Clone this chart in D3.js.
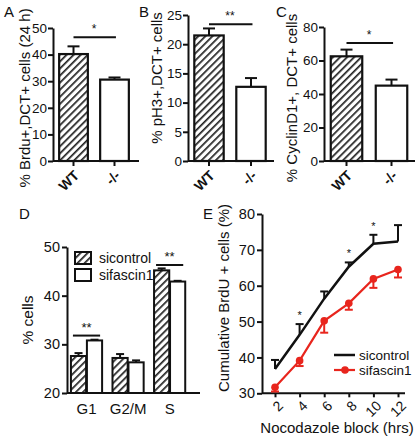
<!DOCTYPE html>
<html><head><meta charset="utf-8">
<script src="https://cdn.jsdelivr.net/npm/d3@7"></script>
<style>
body{margin:0;background:#fff;}
svg{display:block;font-family:Arial,"Liberation Sans",sans-serif;}
</style></head>
<body>
<svg id="c" width="419" height="440"></svg>
<script>
// ---- data ----
const genotypes = ["WT", "-/-"];
const brduValues = [40.2, 30.6];
const brduErrors = [2.9, 0.8];
const ph3Values = [21.5, 12.7];
const ph3Errors = [1.2, 1.5];
const cyclinValues = [62.5, 45];
const cyclinErrors = [4, 3.6];

const phases = ["G1", "G2/M", "S"];
const cellSeries = ["sicontrol", "sifascin1"];
const sicontrolCells = [27.6, 27.2, 45.2];
const sicontrolCellErr = [0.6, 0.8, 0.4];
const sifascinCells = [30.8, 26.3, 42.9];
const sifascinCellErr = [0.15, 0.4, 0.15];

const hours = [2, 4, 6, 8, 10, 12];
const sicontrolBrdu = [36.8, 46.3, 56.4, 65.3, 71.7, 72.3];
const sicontrolBrduErr = [2.5, 3.0, 2.0, 1.2, 2.5, 4.6];
const sifascinBrdu = [31.7, 39.1, 50.2, 55.1, 61.9, 64.5];
const sifascinBrduErr = [1.2, 1.5, 3.3, 1.8, 2.5, 2.2];

const svg = d3.select("#c");
const defs = svg.append("defs");
const pat = defs.append("pattern").attr("id","hatch").attr("patternUnits","userSpaceOnUse")
  .attr("width",5).attr("height",5).attr("patternTransform","rotate(45)");
pat.append("rect").attr("width",5).attr("height",5).attr("fill","#fff");
pat.append("rect").attr("x",0).attr("width",1.7).attr("height",5).attr("fill","#222");

function styleAxis(g, fs){
  g.selectAll(".domain").attr("stroke","#111").attr("stroke-width",2);
  g.selectAll(".tick line").attr("stroke","#111").attr("stroke-width",2);
  g.selectAll("text").attr("font-size",fs).attr("fill","#111").style("font-family","Arial,'Liberation Sans',sans-serif");
}

function barPanel(o){
  const x = d3.scaleBand().domain(genotypes).range([o.x0, o.x1]).paddingInner(0.3).paddingOuter(0.15);
  const y = d3.scaleLinear().domain([0, o.ymax]).range([o.yb, o.yt]);
  const g = svg.append("g");
  const ya = g.append("g").attr("transform",`translate(${o.x0},0)`)
    .call(d3.axisLeft(y).tickValues(o.ticks).tickSize(5).tickPadding(1).tickSizeOuter(0));
  styleAxis(ya, 13.5);
  genotypes.forEach((k,i)=>{
    const cx = x(k)+x.bandwidth()/2;
    g.append("line").attr("x1",cx).attr("x2",cx).attr("y1",y(o.values[i])).attr("y2",y(o.values[i]+o.errors[i]))
      .attr("stroke","#111").attr("stroke-width",2);
    g.append("line").attr("x1",cx-6).attr("x2",cx+6).attr("y1",y(o.values[i]+o.errors[i])).attr("y2",y(o.values[i]+o.errors[i]))
      .attr("stroke","#111").attr("stroke-width",2);
  });
  g.selectAll("rect.bar").data(o.values).join("rect")
    .attr("x",(d,i)=>x(genotypes[i])).attr("width",x.bandwidth())
    .attr("y",d=>y(d)).attr("height",d=>y(0)-y(d))
    .attr("fill",(d,i)=>i===0?"url(#hatch)":"#fff").attr("stroke","#111").attr("stroke-width",2.2);
  const xa = g.append("g").attr("transform",`translate(0,${o.yb})`)
    .call(d3.axisBottom(x).tickSize(5).tickSizeOuter(0));
  xa.select(".domain").attr("d",`M${o.x0},0H${o.xEnd}`);
  styleAxis(xa, 14);
  xa.selectAll("text").attr("text-anchor","end").attr("font-weight","bold")
    .attr("x",0).attr("y",0).attr("dy","0.35em").attr("transform","translate(3,12) rotate(-45)");
  const sy = y(o.sig);
  g.append("line").attr("x1",x(genotypes[0])+x.bandwidth()*0.5).attr("x2",x(genotypes[1])+x.bandwidth()*0.55)
    .attr("y1",sy).attr("y2",sy).attr("stroke","#111").attr("stroke-width",2);
  g.append("text").attr("x",(x(genotypes[0])+x(genotypes[1])+x.bandwidth())/2).attr("y",sy-4)
    .attr("text-anchor","middle").attr("font-size",12).attr("fill","#111").text(o.star);
  g.append("text").attr("transform",`translate(${o.tx},${o.ty}) rotate(-90)`).attr("text-anchor","middle")
    .attr("font-size",15).attr("fill","#111").text(o.title);
  g.append("text").attr("x",o.lx).attr("y",o.ly).attr("font-size",15).attr("fill","#111").text(o.letter);
}

barPanel({x0:53,x1:135,xEnd:139,yb:161,yt:28,ymax:50,ticks:[0,10,20,30,40,50],values:brduValues,errors:brduErrors,
  sig:46.5,star:"*",title:"% Brdu+,DCT+ cells (24 h)",tx:30,ty:98,letter:"A",lx:4,ly:17});
barPanel({x0:188,x1:272,xEnd:274,yb:161,yt:15,ymax:25,ticks:[0,5,10,15,20,25],values:ph3Values,errors:ph3Errors,
  sig:23.4,star:"**",title:"% pH3+,DCT+ cells",tx:162,ty:78,letter:"B",lx:139,ly:17});
barPanel({x0:324,x1:414,xEnd:415,yb:161,yt:27,ymax:80,ticks:[0,20,40,60,80],values:cyclinValues,errors:cyclinErrors,
  sig:70.5,star:"*",title:"% CyclinD1+, DCT+ cells",tx:297,ty:98,letter:"C",lx:276,ly:17});

// ---- panel D ----
(function(){
  const x0=67, x1=200, yb=393, yt=247;
  const x = d3.scaleBand().domain(phases).range([x0,x1]).paddingInner(0.25).paddingOuter(0.225).align(0.21);
  const xs = d3.scaleBand().domain(cellSeries).range([0,x.bandwidth()]).paddingInner(0.05);
  const y = d3.scaleLinear().domain([20,50]).range([yb,yt]);
  const g = svg.append("g");
  const ya = g.append("g").attr("transform",`translate(${x0},0)`)
    .call(d3.axisLeft(y).tickValues([20,30,40,50]).tickSize(5).tickPadding(2).tickSizeOuter(0));
  styleAxis(ya, 14.5);
  const series = [[sicontrolCells,sicontrolCellErr],[sifascinCells,sifascinCellErr]];
  series.forEach(([vals,errs],si)=>{
    phases.forEach((p,i)=>{
      const bx = x(p)+xs(cellSeries[si]);
      const cx = bx+xs.bandwidth()/2;
      g.append("line").attr("x1",cx).attr("x2",cx).attr("y1",y(vals[i])).attr("y2",y(vals[i]+errs[i])).attr("stroke","#111").attr("stroke-width",2);
      g.append("line").attr("x1",cx-4).attr("x2",cx+4).attr("y1",y(vals[i]+errs[i])).attr("y2",y(vals[i]+errs[i])).attr("stroke","#111").attr("stroke-width",2);
      g.append("rect").attr("x",bx).attr("width",xs.bandwidth()).attr("y",y(vals[i])).attr("height",y(20)-y(vals[i]))
        .attr("fill",si===0?"url(#hatch)":"#fff").attr("stroke","#111").attr("stroke-width",2);
    });
  });
  const xa = g.append("g").attr("transform",`translate(0,${yb})`)
    .call(d3.axisBottom(x).tickSize(0).tickPadding(10).tickSizeOuter(0));
  xa.select(".domain").attr("d",`M${x0},0H${x1}`);
  styleAxis(xa, 15);
  [["G1",31.8],["S",46.3]].forEach(([p,v])=>{
    const sy=y(v);
    g.append("line").attr("x1",x(p)+2).attr("x2",x(p)+x.bandwidth()-2).attr("y1",sy).attr("y2",sy).attr("stroke","#111").attr("stroke-width",2);
    g.append("text").attr("x",x(p)+x.bandwidth()/2).attr("y",sy-4).attr("text-anchor","middle").attr("font-size",13).attr("fill","#111").text("**");
  });
  cellSeries.forEach((s,i)=>{
    g.append("rect").attr("x",75).attr("y",252+i*17).attr("width",16).attr("height",12)
      .attr("fill",i===0?"url(#hatch)":"#fff").attr("stroke","#111").attr("stroke-width",2);
    g.append("text").attr("x",99).attr("y",263+i*17).attr("font-size",14).attr("fill","#111").text(s);
  });
  g.append("text").attr("transform","translate(33,320) rotate(-90)").attr("text-anchor","middle").attr("font-size",15.5).attr("fill","#111").text("% cells");
  g.append("text").attr("x",19).attr("y",219).attr("font-size",15).attr("fill","#111").text("D");
})();

// ---- panel E ----
(function(){
  const x0=262, xEnd=405, yb=393.3, yt=214;
  const x = d3.scaleLinear().domain([2,12]).range([275,398]);
  const y = d3.scaleLinear().domain([30,80]).range([yb,yt]);
  const g = svg.append("g");
  const ya = g.append("g").attr("transform",`translate(${x0},0)`)
    .call(d3.axisLeft(y).tickValues([30,40,50,60,70,80]).tickSize(5).tickPadding(2).tickSizeOuter(0));
  styleAxis(ya, 14.5);
  const xa = g.append("g").attr("transform",`translate(0,${yb})`)
    .call(d3.axisBottom(x).tickValues(hours).tickFormat(d3.format("d")).tickSize(4).tickSizeOuter(0));
  xa.select(".domain").attr("d",`M${x0},0H${xEnd}`);
  styleAxis(xa, 14);
  xa.selectAll("text").attr("text-anchor","end").attr("x",0).attr("y",0).attr("dy","0.35em")
    .attr("transform","translate(5,10) rotate(-45)");
  hours.forEach((h,i)=>{
    const cx=x(h), top=y(sicontrolBrdu[i]+sicontrolBrduErr[i]);
    g.append("line").attr("x1",cx).attr("x2",cx).attr("y1",y(sicontrolBrdu[i])).attr("y2",top).attr("stroke","#111").attr("stroke-width",2);
    g.append("line").attr("x1",cx-4).attr("x2",cx+4).attr("y1",top).attr("y2",top).attr("stroke","#111").attr("stroke-width",2);
    const bot=y(sifascinBrdu[i]-sifascinBrduErr[i]);
    g.append("line").attr("x1",cx).attr("x2",cx).attr("y1",y(sifascinBrdu[i])).attr("y2",bot).attr("stroke","#e8251d").attr("stroke-width",2);
    g.append("line").attr("x1",cx-4).attr("x2",cx+4).attr("y1",bot).attr("y2",bot).attr("stroke","#e8251d").attr("stroke-width",2);
  });
  const line = d3.line().x((d,i)=>x(hours[i])).y(d=>y(d));
  g.append("path").datum(sicontrolBrdu).attr("d",line).attr("fill","none").attr("stroke","#111").attr("stroke-width",2.5);
  g.append("path").datum(sifascinBrdu).attr("d",line).attr("fill","none").attr("stroke","#e8251d").attr("stroke-width",2.2);
  g.selectAll("circle.pt").data(sifascinBrdu).join("circle").attr("cx",(d,i)=>x(hours[i])).attr("cy",d=>y(d)).attr("r",3.8).attr("fill","#e8251d");
  [4,8,10].forEach(h=>{
    const i=hours.indexOf(h);
    g.append("text").attr("x",x(h)).attr("y",y(sicontrolBrdu[i]+sicontrolBrduErr[i])-5).attr("text-anchor","middle").attr("font-size",11).attr("fill","#111").text("*");
  });
  g.append("line").attr("x1",334).attr("x2",355).attr("y1",355).attr("y2",355).attr("stroke","#111").attr("stroke-width",2.5);
  g.append("text").attr("x",359).attr("y",360).attr("font-size",13.5).attr("fill","#111").text(cellSeries[0]);
  g.append("line").attr("x1",334).attr("x2",355).attr("y1",370).attr("y2",370).attr("stroke","#e8251d").attr("stroke-width",2.2);
  g.append("circle").attr("cx",345).attr("cy",370).attr("r",3.8).attr("fill","#e8251d");
  g.append("text").attr("x",359).attr("y",375).attr("font-size",13.5).attr("fill","#111").text(cellSeries[1]);
  g.append("text").attr("transform","translate(229,298) rotate(-90)").attr("text-anchor","middle").attr("font-size",15).attr("fill","#111").text("Cumulative BrdU + cells (%)");
  g.append("text").attr("x",337).attr("y",433).attr("text-anchor","middle").attr("font-size",15).attr("fill","#111").text("Nocodazole block (hrs)");
  g.append("text").attr("x",203).attr("y",219).attr("font-size",15).attr("fill","#111").text("E");
})();
</script>
</body></html>
